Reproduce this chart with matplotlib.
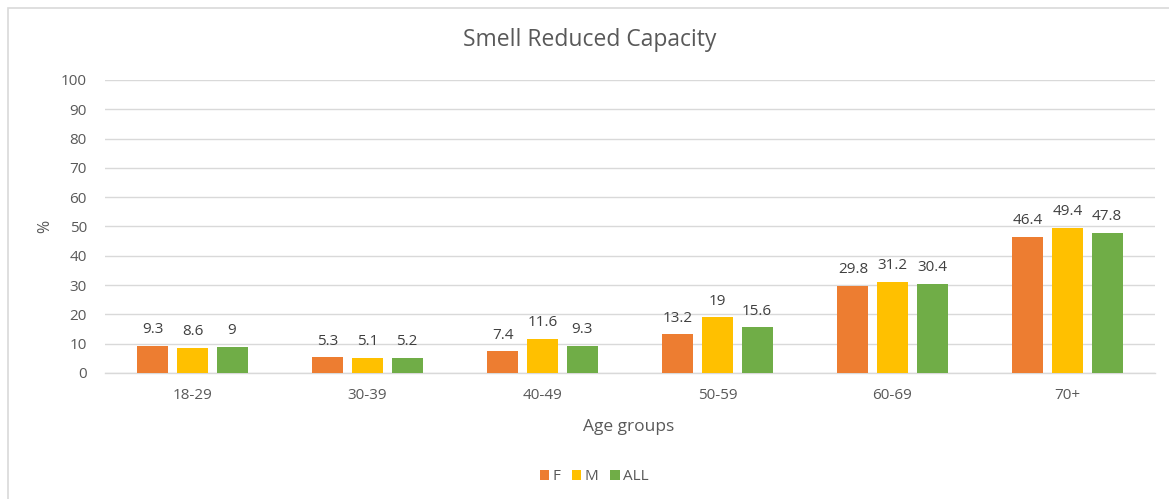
import matplotlib
matplotlib.use("Agg")
import matplotlib.pyplot as plt
import numpy as np
from matplotlib.patches import Rectangle

categories = ["18-29", "30-39", "40-49", "50-59", "60-69", "70+"]
series_names = ["F", "M", "ALL"]
f_vals = [9.3, 5.3, 7.4, 13.2, 29.8, 46.4]
m_vals = [8.6, 5.1, 11.6, 19, 31.2, 49.4]
all_vals = [9, 5.2, 9.3, 15.6, 30.4, 47.8]
f_labels = ["9.3", "5.3", "7.4", "13.2", "29.8", "46.4"]
m_labels = ["8.6", "5.1", "11.6", "19", "31.2", "49.4"]
all_labels = ["9", "5.2", "9.3", "15.6", "30.4", "47.8"]
y_ticks = [0, 10, 20, 30, 40, 50, 60, 70, 80, 90, 100]

colors = ["#ED7D31", "#FFC000", "#70AD47"]
font = ["Open Sans", "DejaVu Sans"]
plt.rcParams["font.family"] = font

W, H = 1169, 499
fig = plt.figure(figsize=(W / 100, H / 100), dpi=100)
ax = fig.add_axes([105 / W, 1 - 373 / H, 1050 / W, 293 / H])

# outer chart border
fig.patches.append(Rectangle((8 / W, -0.01), 1.02, 1 - 8 / H + 0.01, transform=fig.transFigure,
                             fill=False, edgecolor="#d9d9d9", linewidth=1.2))

x = np.arange(len(categories))
offset = 0.226
width = 0.177
for i, (vals, labs) in enumerate(zip([f_vals, m_vals, all_vals], [f_labels, m_labels, all_labels])):
    pos = x + (i - 1) * offset
    ax.bar(pos, vals, width=width, color=colors[i], label=series_names[i], zorder=3)
    for p, v, l in zip(pos, vals, labs):
        ax.text(p, v + 3.0, l, ha="center", va="bottom", fontsize=11, color="#404040")

ax.set_xlim(-0.5, len(categories) - 0.5)
ax.set_ylim(0, 100)
ax.set_yticks(y_ticks)
ax.set_xticks(x)
ax.set_xticklabels(categories)
ax.tick_params(axis="both", length=0, labelsize=11, colors="#595959")
ax.tick_params(axis="x", pad=11)
ax.tick_params(axis="y", pad=13)
ax.grid(axis="y", color="#d9d9d9", linewidth=1, zorder=0)
for s in ["top", "right", "left"]:
    ax.spines[s].set_visible(False)
ax.spines["bottom"].set_color("#d9d9d9")
ax.spines["bottom"].set_linewidth(1)

fig.text(590 / W, 1 - 40 / H, "Smell Reduced Capacity", ha="center", va="center",
         fontsize=16.5, color="#595959")
fig.text(45 / W, 1 - 226 / H, "%", ha="center", va="center", rotation=90,
         fontsize=11.5, color="#595959")
fig.text(629 / W, 1 - 427 / H, "Age groups", ha="center", va="center",
         fontsize=12.5, color="#595959")

leg = fig.legend(loc="center", bbox_to_anchor=(594 / W, 1 - 477 / H), ncol=3, frameon=False,
                 handlelength=0.6, handleheight=0.6, handletextpad=0.2, columnspacing=0.8,
                 fontsize=11, labelcolor="#595959")

fig.savefig("out.png", dpi=100)
